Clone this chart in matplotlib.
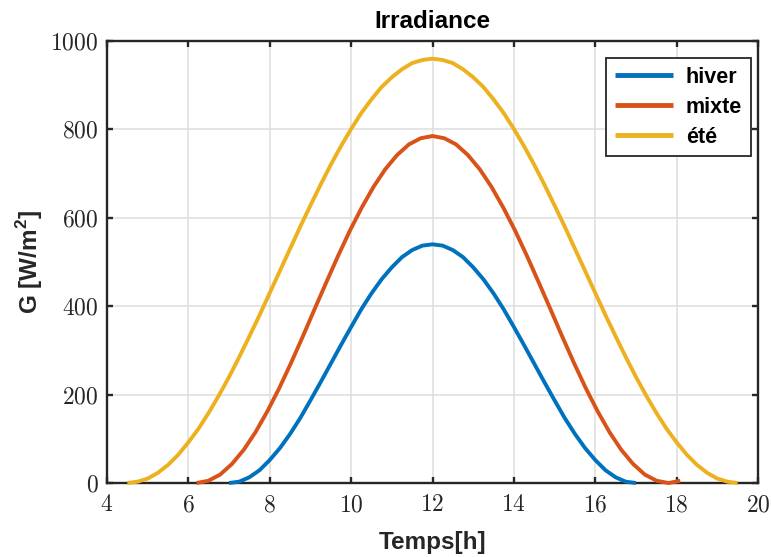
import numpy as np
import matplotlib
matplotlib.use("Agg")
import matplotlib.pyplot as plt
from matplotlib.ticker import FuncFormatter

plt.rcParams['mathtext.fontset'] = 'custom'
plt.rcParams['mathtext.rm'] = 'cmr10'
plt.rcParams['mathtext.bf'] = 'Liberation Sans:bold'
plt.rcParams['font.family'] = ['Liberation Sans', 'DejaVu Sans']

# ---- data ----
hours_hiver = np.linspace(7, 17, 41)
G_hiver = [0, 3, 13, 29, 52, 79, 111, 147, 187, 228, 270, 312, 353, 393, 429, 461,
           488, 511, 527, 537, 540, 537, 527, 511, 488, 461, 429, 393, 353, 312, 270,
           228, 187, 147, 111, 79, 52, 29, 13, 3, 0]

hours_mixte = np.linspace(6.2, 18.09, 42)
G_mixte = [0, 5, 19, 43, 75, 115, 162, 214, 271, 331, 393, 454, 514, 571, 623, 670,
           710, 742, 766, 780, 785, 780, 766, 742, 710, 670, 623, 571, 514, 454, 393,
           331, 271, 214, 162, 115, 75, 43, 19, 5, 0, 5]

hours_ete = np.linspace(4.5, 19.5, 61)
G_ete = [0, 3, 10, 23, 41, 64, 92, 123, 159, 198, 240, 285, 332, 380, 430, 480, 530,
         580, 628, 675, 720, 762, 801, 837, 868, 896, 918, 936, 950, 957, 960, 957,
         950, 936, 918, 896, 868, 837, 801, 762, 720, 675, 628, 580, 530, 480, 430,
         380, 332, 285, 240, 198, 159, 123, 92, 64, 41, 23, 10, 3, 0]

labels = ['hiver', 'mixte', 'été']
colors = ['#0072BD', '#D95319', '#EDB120']
xticks = [4, 6, 8, 10, 12, 14, 16, 18, 20]
yticks = [0, 200, 400, 600, 800, 1000]

fig = plt.figure(figsize=(7.71, 5.57), dpi=100)
ax = fig.add_axes([107/771, 74/557, 651/771, 442/557])

for x, y, lab, c in zip([hours_hiver, hours_mixte, hours_ete],
                        [G_hiver, G_mixte, G_ete], labels, colors):
    ax.plot(x, y, color=c, lw=2.8, label=lab, clip_on=False, zorder=3,
            solid_capstyle='butt', solid_joinstyle='round')

ax.set_xlim(4, 20)
ax.set_ylim(0, 1000)
ax.set_xticks(xticks)
ax.set_yticks(yticks)
fmt = FuncFormatter(lambda v, p: r'$\mathrm{%g}$' % v)
ax.xaxis.set_major_formatter(fmt)
ax.yaxis.set_major_formatter(fmt)

ax.grid(True, color='#dedede', lw=1.1)
ax.set_axisbelow(True)
for s in ax.spines.values():
    s.set_color('#262626')
    s.set_linewidth(1.7)
ax.tick_params(direction='in', length=4.3, width=1.7, color='#262626',
               top=True, right=True, labelsize=17, labelcolor='#262626')
ax.tick_params(axis='x', pad=8)
ax.tick_params(axis='y', pad=6)

ax.set_title('Irradiance', fontsize=17.5, fontweight='bold', pad=9)
ax.set_xlabel('Temps[h]', fontsize=17.5, fontweight='bold', color='#262626', labelpad=11)
ax.set_ylabel(r'G [W/m$^{\mathbf{2}}$]', fontsize=17.5, fontweight='bold',
              color='#262626', labelpad=4)

leg = ax.legend(loc='upper right', bbox_to_anchor=(0.989, 0.9615), borderaxespad=0,
                fancybox=False, edgecolor='#262626', framealpha=1,
                prop={'weight': 'bold', 'size': 15.5}, handlelength=2.7,
                handletextpad=0.6, labelspacing=0.42, borderpad=0.4)
leg.get_frame().set_linewidth(1.3)
for line in leg.get_lines():
    line.set_linewidth(3.5)

fig.savefig('out.png', dpi=100)
